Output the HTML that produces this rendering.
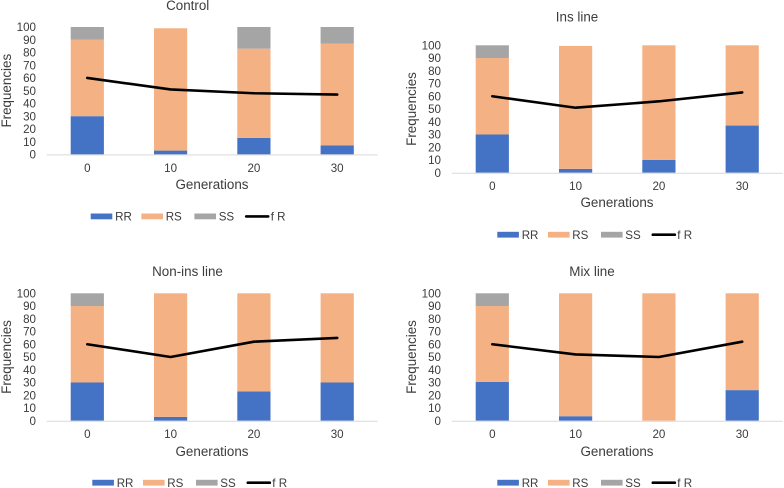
<!DOCTYPE html>
<html lang="en">
<head>
<meta charset="utf-8">
<title>Genotype frequencies across generations</title>
<style>
html,body{margin:0;padding:0;background:#fff;width:784px;height:488px;overflow:hidden}
svg{display:block;filter:blur(0.35px)}
text{font-family:"Liberation Sans",Arial,sans-serif;fill:#3c3c3c}
.tick{font-size:11.6px}
.title,.axis{font-size:13.4px}
.leg{font-size:11.6px}
</style>
</head>
<body>
<svg id="fig" xmlns="http://www.w3.org/2000/svg" width="784" height="488" viewBox="0 0 784 488">
  <g id="chart-control">
    <text class="title" x="187.7" y="10" text-anchor="middle">Control</text>
    <text class="axis" x="212" y="189" text-anchor="middle">Generations</text>
    <text class="axis" transform="translate(11 90.7) rotate(-90)" text-anchor="middle">Frequencies</text>
  </g>
  <g id="chart-ins">
    <text class="title" x="577" y="21.5" text-anchor="middle">Ins line</text>
    <text class="axis" x="617" y="207" text-anchor="middle">Generations</text>
    <text class="axis" transform="translate(416 109) rotate(-90)" text-anchor="middle">Frequencies</text>
  </g>
  <g id="chart-non">
    <text class="title" x="187.5" y="276" text-anchor="middle">Non-ins line</text>
    <text class="axis" x="212" y="456" text-anchor="middle">Generations</text>
    <text class="axis" transform="translate(11 357) rotate(-90)" text-anchor="middle">Frequencies</text>
  </g>
  <g id="chart-mix">
    <text class="title" x="592" y="276" text-anchor="middle">Mix line</text>
    <text class="axis" x="617" y="456" text-anchor="middle">Generations</text>
    <text class="axis" transform="translate(416 357) rotate(-90)" text-anchor="middle">Frequencies</text>
  </g>
</svg>
<script>
var categories = ['0', '10', '20', '30'];
var yTicks = [0, 10, 20, 30, 40, 50, 60, 70, 80, 90, 100];
var seriesNames = ['RR', 'RS', 'SS'];
var lineName = 'f R';

var controlRR = [30, 3, 13, 7];
var controlRS = [60, 96, 70, 80];
var controlSS = [10, 0, 17, 13];
var controlFR = [60, 51, 48, 47];

var insRR = [30, 3, 10, 37];
var insRS = [60, 96.5, 90, 63];
var insSS = [10, 0, 0, 0];
var insFR = [60, 51, 56, 63];

var nonRR = [30, 3, 23, 30];
var nonRS = [60, 97, 77, 70];
var nonSS = [10, 0, 0, 0];
var nonFR = [60, 50, 62, 65];

var mixRR = [30.5, 3.5, 0, 24];
var mixRS = [59.5, 96.5, 100, 76];
var mixSS = [10, 0, 0, 0];
var mixFR = [60, 52, 50, 62];

var NS = 'http://www.w3.org/2000/svg';
var colors = ['#4472C4', '#F4B183', '#A5A5A5'];

function make(parent, tag, attrs) {
  var el = document.createElementNS(NS, tag);
  for (var k in attrs) el.setAttribute(k, attrs[k]);
  parent.appendChild(el);
  return el;
}

function drawChart(id, layout, rr, rs, ss, fr) {
  var g = document.getElementById(id);
  var stacks = [rr, rs, ss];
  function x(i) { return layout.left + 83.3 * i; }
  function y(v) { return layout.base - v * 1.274; }

  yTicks.forEach(function (t) {
    var el = make(g, 'text', { 'class': 'tick', x: layout.left - 51.3, y: y(t) + 4.1, 'text-anchor': 'end' });
    
    
    el.textContent = t;
  });

  categories.forEach(function (c, i) {
    var cum = 0;
    stacks.forEach(function (vals, s) {
      var v = vals[i];
      if (v > 0) {
        var r = make(g, 'rect', { x: x(i) - 16.6, y: y(cum + v), width: 33.2, height: y(cum) - y(cum + v), fill: colors[s] });
        
        
      }
      cum += v;
    });
    var t = make(g, 'text', { 'class': 'tick', x: x(i), y: layout.base + 17.5, 'text-anchor': 'middle' });
    
    
    t.textContent = c;
  });

  var axis = make(g, 'line', { x1: layout.left - 40.6, x2: layout.left + 290.4, y1: layout.base + 0.5, y2: layout.base + 0.5, stroke: '#D9D9D9', 'stroke-width': 1 });
  
  

  var pts = fr.map(function (v, i) { return x(i) + ',' + y(v); }).join(' ');
  var line = make(g, 'polyline', { points: pts, fill: 'none', stroke: '#000', 'stroke-width': 2.6, 'stroke-linecap': 'round', 'stroke-linejoin': 'round' });
  
  

  var lx = layout.legend, ly = layout.base + 62;
  var swatchX = [0, 50.7, 103.7];
  var textX = [24.4, 75, 128];
  seriesNames.forEach(function (n, s) {
    var sw = make(g, 'rect', { x: lx + swatchX[s], y: ly - 2.9, width: 21.6, height: 5.8, fill: colors[s] });
    
    
    var lt = make(g, 'text', { 'class': 'leg', x: lx + textX[s], y: ly + 4.1 });
    
    
    lt.textContent = n;
  });
  var ll = make(g, 'line', { x1: lx + 155.5, x2: lx + 177.5, y1: ly, y2: ly, stroke: '#000', 'stroke-width': 2.6, 'stroke-linecap': 'round' });
  
  
  var llt = make(g, 'text', { 'class': 'leg', x: lx + 180, y: ly + 4.1 });
  
  
  llt.textContent = lineName;
}

drawChart('chart-control', { left: 87.3, base: 154.4, legend: 90.7 }, controlRR, controlRS, controlSS, controlFR);
drawChart('chart-ins', { left: 492.3, base: 172.7, legend: 497.3 }, insRR, insRS, insSS, insFR);
drawChart('chart-non', { left: 87.3, base: 420.7, legend: 92.3 }, nonRR, nonRS, nonSS, nonFR);
drawChart('chart-mix', { left: 492.3, base: 420.7, legend: 497.3 }, mixRR, mixRS, mixSS, mixFR);
</script>
</body>
</html>
